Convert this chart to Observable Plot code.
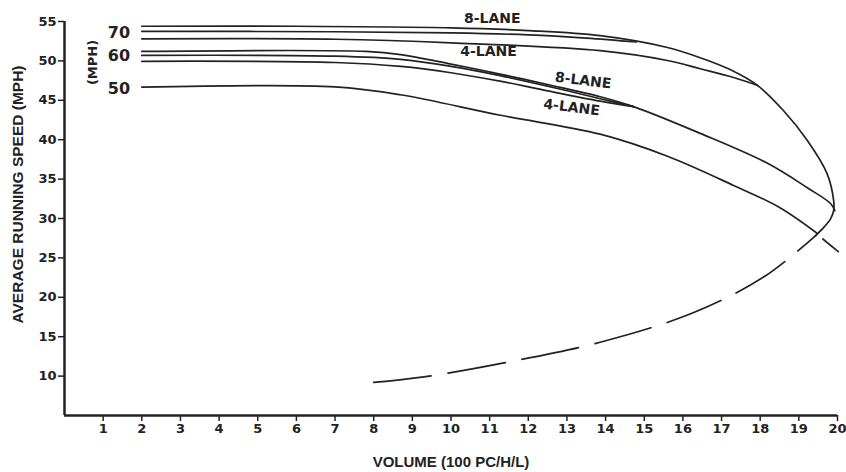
<!DOCTYPE html>
<html>
<head>
<meta charset="utf-8">
<script src="https://cdn.jsdelivr.net/npm/d3@7"></script>
<script src="https://cdn.jsdelivr.net/npm/@observablehq/plot@0.6"></script>
<style>
  html, body { margin: 0; padding: 0; background: #fff; }
  svg { overflow: visible; }
</style>
</head>
<body>
<div id="chart"></div>
<script>
// ---- data (volume in 100 pc/h/l, speed in mph) ----
const xTicks = [1,2,3,4,5,6,7,8,9,10,11,12,13,14,15,16,17,18,19,20];
const yTicks = [10,15,20,25,30,35,40,45,50,55];

const curve70_8lane = [[2,54.4],[6,54.4],[10,54.2],[12,53.85],[13.86,53.2],[15.6,51.7],[16.45,50.4],[17.31,48.7],[17.93,46.9],[18.6,43.7],[19.22,39.9],[19.73,35.7],[19.9,32.3],[19.9,31.0],[19.82,29.96],[19.65,28.9],[19.43,27.8]];
const curve70_6lane = [[2,53.75],[7,53.7],[10,53.55],[12,53.3],[13.5,52.9],[14.8,52.4]];
const curve70_4lane = [[2,52.8],[7,52.75],[10,52.3],[13.86,51.3],[15.6,50.05],[16.45,49.0],[17.31,47.9],[17.93,46.9]];
const curve60_8lane = [[2,51.2],[7.8,51.2],[8.7,50.8],[10,49.6],[11.3,48.3],[12.5,47.0],[13.86,45.45],[14.72,44.2],[16.45,40.8],[18.19,37.0],[19.22,33.9],[19.82,31.9],[19.93,31.0]];
const curve60_6lane = [[2,50.7],[7,50.6],[8.7,50.2],[10,49.3],[11.3,48.1],[12.5,46.8],[13.86,45.2],[14.72,44.2]];
const curve60_4lane = [[2,49.95],[7,49.8],[8.7,49.3],[10,48.5],[11.3,47.4],[12.5,46.2],[13.86,44.9],[14.72,44.2]];
const curve50_4lane = [[2,46.66],[7,46.7],[8.69,45.7],[11.28,43.1],[13.86,40.7],[15.6,37.9],[17.31,34.2],[18.5,31.4],[19.48,28.1]];
const curve50_tail = [[19.62,27.4],[20.02,25.8]];
const forcedFlow = [[8,9.2],[9.3,9.9],[11.6,11.9],[13.86,14.3],[16.25,18.0],[18.1,22.6],[19.45,27.9]];

const speedLabels = ["70","60","50"];
const speedLabelVolume = [1.41,1.41,1.41];
const speedLabelSpeed = [53.5,50.6,46.5];

const laneLabels = ["8-LANE","4-LANE"];
const laneLabelVolume = [11.07,10.97];
const laneLabelSpeed = [55.44,51.13];
const laneLabelsTilted = ["8-LANE","4-LANE"];
const laneTiltVolume = [13.42,13.12];
const laneTiltSpeed = [47.5,44.1];

const xTitle = "VOLUME (100 PC/H/L)";
const yTitle = "AVERAGE RUNNING SPEED (MPH)";
const unitLabel = "(MPH)";
const unitVolume = 0.74, unitSpeed = 49.8;

// ---- build tables ----
const solidSeries = {
  "70-8": curve70_8lane, "70-6": curve70_6lane, "70-4": curve70_4lane,
  "60-8": curve60_8lane, "60-6": curve60_6lane, "60-4": curve60_4lane,
  "50-4": curve50_4lane, "50-tail": curve50_tail
};
const solidRows = Object.entries(solidSeries).flatMap(([name, pts]) =>
  pts.map(([volume, speed]) => ({series: name, volume, speed})));
const dashedRows = forcedFlow.map(([volume, speed]) => ({volume, speed}));
const speedLabelRows = speedLabels.map((t, i) => ({text: t, volume: speedLabelVolume[i], speed: speedLabelSpeed[i]}));
const laneRows = laneLabels.map((t, i) => ({text: t, volume: laneLabelVolume[i], speed: laneLabelSpeed[i]}));
const laneTiltRows = laneLabelsTilted.map((t, i) => ({text: t, volume: laneTiltVolume[i], speed: laneTiltSpeed[i]}));

const ink = "#222";
const font = "DejaVu Sans, Liberation Sans, sans-serif";
const titleFont = "Liberation Sans, Arial, sans-serif";

const chart = Plot.plot({
  width: 846,
  height: 472,
  marginTop: 21,
  marginBottom: 57,
  marginLeft: 64,
  marginRight: 9,
  style: {fontFamily: font, fontWeight: "bold", color: ink, background: "#fff", overflow: "visible"},
  x: {domain: [0, 20]},
  y: {domain: [5, 55]},
  marks: [
    Plot.axisX({ticks: xTicks, tickSize: 6, tickPadding: 2, fontSize: 13, strokeWidth: 1.5,
      label: null, tickFormat: d => String(d)}),
    Plot.axisY({ticks: yTicks, tickSize: 6, tickPadding: 2, fontSize: 13, strokeWidth: 1.5, label: null}),
    Plot.ruleX([0], {y1: 5, y2: 55, stroke: ink, strokeWidth: 2.5}),
    Plot.ruleY([5], {x1: 0, x2: 20, stroke: ink, strokeWidth: 2.5}),
    Plot.line(solidRows, {x: "volume", y: "speed", z: "series", curve: "catmull-rom", stroke: ink, strokeWidth: 1.7}),
    Plot.line(dashedRows, {x: "volume", y: "speed", curve: "catmull-rom", stroke: ink, strokeWidth: 1.7, strokeDasharray: "58,17"}),
    Plot.text(speedLabelRows, {x: "volume", y: "speed", text: "text", fontSize: 16, fill: ink}),
    Plot.text([unitLabel], {x: unitVolume, y: unitSpeed, text: d => d, rotate: -90, fontSize: 13, fill: ink}),
    Plot.text(laneRows, {x: "volume", y: "speed", text: "text", fontSize: 14, fill: ink, letterSpacing: 0.5}),
    Plot.text(laneTiltRows, {x: "volume", y: "speed", text: "text", fontSize: 14, fill: ink, rotate: 7}),
    Plot.text([xTitle], {frameAnchor: "bottom", text: d => d, dy: 51, fontSize: 15, fontFamily: titleFont, fill: ink}),
    Plot.text([yTitle], {frameAnchor: "left", textAnchor: "middle", text: d => d, rotate: -90, dx: -46, dy: -24, fontSize: 15.5, fontFamily: titleFont, fill: ink})
  ]
});
document.getElementById("chart").appendChild(chart);
</script>
</body>
</html>
